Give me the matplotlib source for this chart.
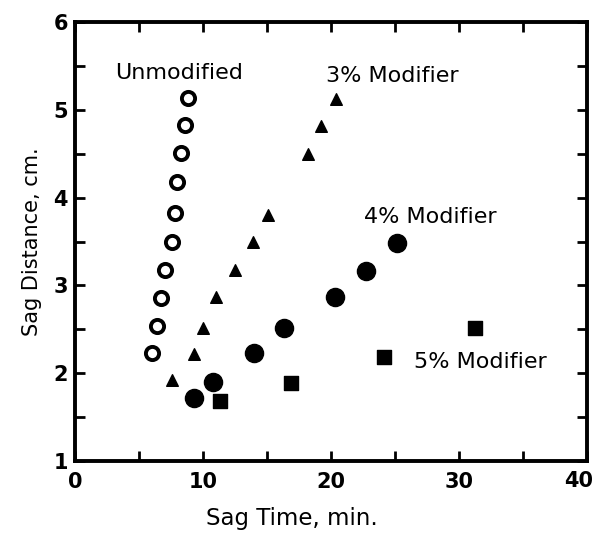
import matplotlib.pyplot as plt
from matplotlib.ticker import MultipleLocator, FixedLocator

# Data (sag time in min, sag distance in cm)
unmod_t = [8.8, 8.6, 8.3, 8.0, 7.8, 7.6, 7.0, 6.7, 6.4, 6.0]
unmod_d = [5.13, 4.83, 4.51, 4.18, 3.82, 3.49, 3.18, 2.86, 2.54, 2.23]

mod3_t = [7.6, 9.3, 10.0, 11.0, 12.5, 13.9, 15.1, 18.2, 19.2, 20.4]
mod3_d = [1.92, 2.22, 2.51, 2.87, 3.18, 3.49, 3.80, 4.50, 4.82, 5.12]

mod4_t = [9.3, 10.8, 14.0, 16.3, 20.3, 22.7, 25.1]
mod4_d = [1.72, 1.90, 2.23, 2.51, 2.87, 3.16, 3.48]

mod5_t = [11.3, 16.9, 24.1, 31.2]
mod5_d = [1.68, 1.89, 2.19, 2.51]

labels = ['Unmodified', '3% Modifier', '4% Modifier', '5% Modifier']
label_pos = [(8.1, 5.42, 'center'), (19.6, 5.39, 'left'),
             (22.6, 3.78, 'left'), (26.5, 2.13, 'left')]

x_ticks = [0, 10, 20, 30, 40]

fig = plt.figure(figsize=(5.93, 5.38), dpi=100)
ax = fig.add_axes([0.1265, 0.143, 0.864, 0.816])

ax.scatter(unmod_t, unmod_d, s=90, facecolors='white', edgecolors='black', linewidths=2.8, marker='o', zorder=3)
ax.scatter(mod3_t, mod3_d, s=70, color='black', marker='^', zorder=3)
ax.scatter(mod4_t, mod4_d, s=170, color='black', marker='o', zorder=3)
ax.scatter(mod5_t, mod5_d, s=90, color='black', marker='s', zorder=3)

for text, (x, y, ha) in zip(labels, label_pos):
    ax.text(x, y, text, ha=ha, va='center', fontsize=16, color='black')

ax.set_xlim(0, 40)
ax.set_ylim(1, 6)
ax.xaxis.set_major_locator(FixedLocator(x_ticks))
ax.set_xticklabels([str(t) for t in x_ticks[:-1]] + [''])
ax.xaxis.set_minor_locator(MultipleLocator(5))
ax.yaxis.set_major_locator(MultipleLocator(1))
ax.yaxis.set_minor_locator(MultipleLocator(0.5))
ax.tick_params(which='both', direction='in', top=True, right=True, width=2)
ax.tick_params(which='major', length=7, labelsize=15, pad=8)
ax.tick_params(which='minor', length=7)
ax.tick_params(axis='y', pad=5)
for lab in ax.get_xticklabels() + ax.get_yticklabels():
    lab.set_fontweight('bold')
# last x label sits flush with the right edge, as in the original
ax.annotate(str(x_ticks[-1]), xy=(x_ticks[-1], 1), xycoords='data',
            xytext=(4, -7), textcoords='offset points', ha='right', va='top',
            fontsize=15, fontweight='bold', annotation_clip=False)
for sp in ax.spines.values():
    sp.set_linewidth(2.8)

ax.set_xlabel('Sag Time, min.', fontsize=16.5)
ax.xaxis.set_label_coords(0.424, -0.105)
ax.set_ylabel('Sag Distance, cm.', fontsize=15, labelpad=8)

fig.savefig('out.png', dpi=100)
